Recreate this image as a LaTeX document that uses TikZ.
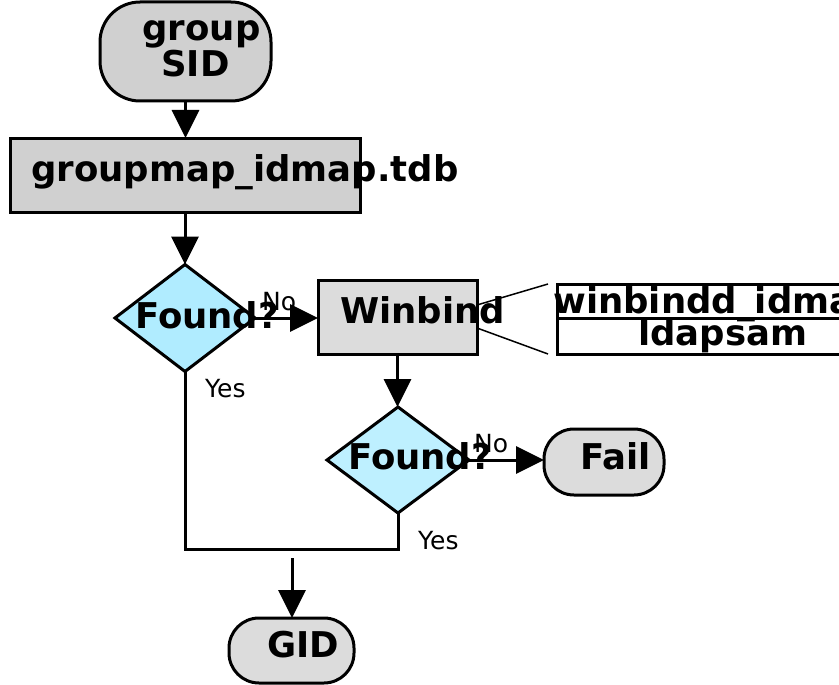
\documentclass[tikz,border=0pt]{standalone}
\usepackage{fontspec}
\setmainfont{DejaVu Sans}
\usetikzlibrary{arrows.meta,shapes.geometric}
\definecolor{grayA}{RGB}{208,208,208}
\definecolor{grayB}{RGB}{220,220,220}
\definecolor{cyanA}{RGB}{176,236,255}
\definecolor{cyanB}{RGB}{190,240,255}
\tikzset{
  box/.style={draw, line width=3pt, inner sep=0pt, outer sep=0pt},
  termbox/.style={box, rounded corners=#1},
  decide/.style={box, diamond},
  arr/.style={line width=3pt, -{Triangle[length=28pt,width=27pt]}},
  conn/.style={line width=3pt},
  thinconn/.style={line width=1.5pt},
  bt/.style={font=\fontsize{35.5}{36}\selectfont\bfseries, inner sep=0pt, anchor=base west},
  st/.style={font=\fontsize{25}{26}\selectfont, inner sep=0pt, anchor=base west},
}
\begin{document}
\begin{tikzpicture}[x=1pt,y=-1pt]
\useasboundingbox (0,0) rectangle (839,685);
\clip (0,0) rectangle (839,685);
% shapes
\node[termbox=40pt, fill=grayA, minimum width=171pt, minimum height=99pt] (sid) at (185.5,51.5) {};
\node[box, fill=grayA, minimum width=350pt, minimum height=74pt] (gm) at (185,175) {};
\node[decide, fill=cyanA, minimum width=140pt, minimum height=107pt] (d1) at (185,318) {};
\node[box, fill=grayB, minimum width=159pt, minimum height=74pt] (wb) at (397.5,317) {};
\node[decide, fill=cyanB, minimum width=142pt, minimum height=106pt] (d2) at (398,460) {};
\node[termbox=30pt, fill=grayB, minimum width=120pt, minimum height=66pt] (fail) at (604,462) {};
\node[termbox=30pt, fill=grayB, minimum width=125pt, minimum height=65pt] (gid) at (291.5,650.5) {};
\node[box, minimum width=324pt, minimum height=34pt] (t1) at (719,301) {};
\node[box, minimum width=324pt, minimum height=36pt] (t2) at (719,336) {};
% connectors
\draw[arr] (sid.south) -- (sid.south |- gm.north);
\draw[arr] (gm.south) -- (gm.south |- d1.north);
\draw[arr] (d1.east) -- (d1.east -| wb.west);
\draw[arr] (wb.south) -- (wb.south |- d2.north);
\draw[arr] (d2.east) -- (d2.east -| fail.west);
\coordinate (j) at (291.5,549);
\draw[conn] (d1.south) |- (j) -| (d2.south);
\coordinate (gtop) at (292,558);
\draw[arr] (gtop) -- (gtop |- gid.north);
\coordinate (w1) at (477,305);
\coordinate (w2) at (477,328);
\coordinate (c1) at (548,284);
\coordinate (c2) at (548,354);
\draw[thinconn] (w1) -- (c1);
\draw[thinconn] (w2) -- (c2);
% texts
\node[bt, anchor=base] (tg) at (201.5,41) {group};
\node[bt, anchor=base] (ts) at (195.5,77) {SID};
\node[bt] (tgm) at (31,181) {groupmap\_idmap.tdb};
\node[bt] (tf1) at (135,328) {Found?};
\node[st] (tn1) at (262,310) {No};
\node[bt] (twb) at (340,323) {Winbind};
\node[st] (ty1) at (205,397) {Yes};
\node[bt] (tw) at (553,313) {winbindd\_idmap};
\node[bt] (tl) at (638,345) {ldapsam};
\node[bt] (tf2) at (348,469) {Found?};
\node[st] (tn2) at (474,452) {No};
\node[bt] (tfail) at (580,469) {Fail};
\node[st] (ty2) at (418,549) {Yes};
\node[bt] (tgid) at (267,657) {GID};
\end{tikzpicture}
\end{document}
